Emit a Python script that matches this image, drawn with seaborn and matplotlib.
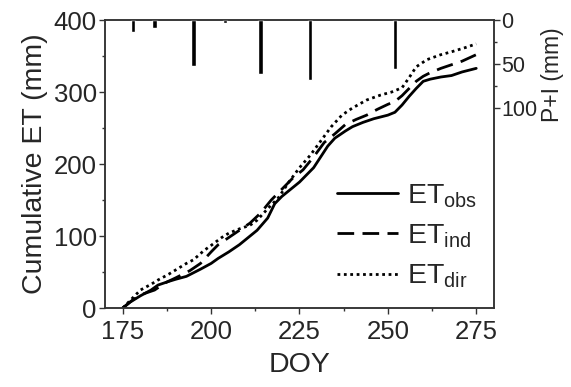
import matplotlib
matplotlib.use("Agg")
import matplotlib.pyplot as plt
import seaborn as sns
import numpy as np
import pandas as pd
from matplotlib.ticker import FixedLocator, MultipleLocator

# ---- data ----
doy_obs = [175, 177, 180, 183, 185, 188, 190, 193, 197, 200, 202, 205, 208, 211, 213, 216, 218, 220,
           222, 225, 227, 229, 231, 233, 235, 238, 240, 243, 246, 250, 252, 254, 256, 258, 260, 262,
           265, 268, 271, 275]
et_obs = [0, 8, 17, 25, 32, 37, 40, 44, 54, 62, 69, 78, 88, 100, 108, 125, 145, 155,
          163, 175, 185, 195, 210, 225, 236, 246, 252, 258, 263, 268, 272, 282, 294, 305, 315, 318,
          321, 323, 328, 333]

doy_ind = [175, 178, 181, 184, 187, 190, 194, 197, 200, 202, 205, 208, 211, 214, 217, 220, 223, 226,
           229, 232, 235, 238, 241, 244, 247, 250, 252, 254, 256, 258, 260, 262, 265, 268, 271, 275]
et_ind = [0, 12, 20, 25, 35, 42, 52, 62, 78, 88, 98, 108, 118, 132, 150, 165, 180, 192,
          210, 230, 242, 255, 262, 268, 276, 283, 287, 295, 305, 315, 322, 327, 333, 338, 343, 352]

doy_dir = [175, 177, 180, 183, 185, 188, 190, 193, 195, 198, 200, 203, 205, 208, 211, 213, 216, 219,
           222, 225, 228, 231, 234, 237, 240, 244, 248, 251, 254, 256, 258, 261, 265, 268, 272, 275]
et_dir = [0, 10, 25, 33, 39, 47, 53, 62, 67, 80, 87, 98, 104, 110, 115, 122, 138, 153,
          175, 195, 212, 232, 252, 268, 278, 289, 296, 300, 306, 320, 335, 345, 352, 356, 362, 367]

doy_pi = [178, 184, 195, 204, 214, 228, 252]
pi_mm = [14, 9, 52, 3, 61, 68, 55]

labels = ["ET$_{\\mathrm{obs}}$", "ET$_{\\mathrm{ind}}$", "ET$_{\\mathrm{dir}}$"]

# ---- style ----
sns.set_theme(style="ticks")
plt.rcParams["font.family"] = ["Liberation Sans", "DejaVu Sans"]
plt.rcParams["mathtext.fontset"] = "custom"
plt.rcParams["mathtext.rm"] = "Liberation Sans"
plt.rcParams["mathtext.it"] = "Liberation Sans:italic"
plt.rcParams["mathtext.bf"] = "Liberation Sans:bold"

FS_TICK = 18.5
FS_LAB = 20.5
fig = plt.figure(figsize=(5.71, 3.87), dpi=100)
ax = fig.add_axes([0.184, 0.204, 0.681, 0.744])
ax.set_facecolor("white")

lw = 2.0
sns.lineplot(x=doy_obs, y=et_obs, ax=ax, color="black", lw=lw, label=labels[0])
sns.lineplot(x=doy_ind, y=et_ind, ax=ax, color="black", lw=lw, label=labels[1])
sns.lineplot(x=doy_dir, y=et_dir, ax=ax, color="black", lw=lw, label=labels[2])
lines = ax.get_lines()
lines[1].set_dashes([6, 3])
lines[2].set_linestyle((0, (1, 1.3)))

ax.set_xlim(170, 280)
ax.set_ylim(0, 400)
ax.xaxis.set_major_locator(FixedLocator([175, 200, 225, 250, 275]))
ax.xaxis.set_minor_locator(FixedLocator([187.5, 212.5, 237.5, 262.5]))
ax.yaxis.set_major_locator(MultipleLocator(100))
ax.yaxis.set_minor_locator(MultipleLocator(50))
ax.set_xlabel("DOY", fontsize=FS_LAB, labelpad=6)
ax.set_ylabel("Cumulative ET (mm)", fontsize=FS_LAB, labelpad=4)
ax.tick_params(axis="both", which="major", direction="out", length=4.5, width=1,
               labelsize=FS_TICK, pad=1.5, color="#333333")
ax.tick_params(axis="x", which="major", pad=4)
ax.tick_params(axis="both", which="minor", direction="out", length=2.5, width=1, color="#333333")

# twin axis for precipitation + irrigation
ax2 = ax.twinx()
ax2.bar(doy_pi, pi_mm, width=1.2, color="black", align="center")
ax2.set_ylim(327, 0)
ax2.yaxis.set_major_locator(FixedLocator([0, 50, 100]))
ax2.yaxis.set_minor_locator(FixedLocator([25, 75]))
ax2.tick_params(axis="y", which="major", direction="out", length=4.5, width=1,
                labelsize=15.5, pad=1, color="#333333")
ax2.tick_params(axis="y", which="minor", direction="out", length=2.5, width=1, color="#333333")
ax2.tick_params(axis="x", which="both", top=True, bottom=False, labeltop=False,
                labelbottom=False, direction="in", color="#333333")
ax2.tick_params(axis="x", which="major", length=4)
ax2.tick_params(axis="x", which="minor", length=2.5)
ax2.text(1.12, 0.81, "P+I (mm)", rotation=90, transform=ax.transAxes,
         ha="left", va="center", fontsize=16.5)

for a in (ax, ax2):
    for s in a.spines.values():
        s.set_color("#333333")
        s.set_linewidth(1.1)
        s.set_visible(True)

leg = ax.legend(loc="center left", bbox_to_anchor=(0.545, 0.25), frameon=False,
                fontsize=FS_LAB, handlelength=2.15, handletextpad=0.3, labelspacing=0.45,
                borderpad=0.2)

fig.savefig("out.png", dpi=100, facecolor="white")
